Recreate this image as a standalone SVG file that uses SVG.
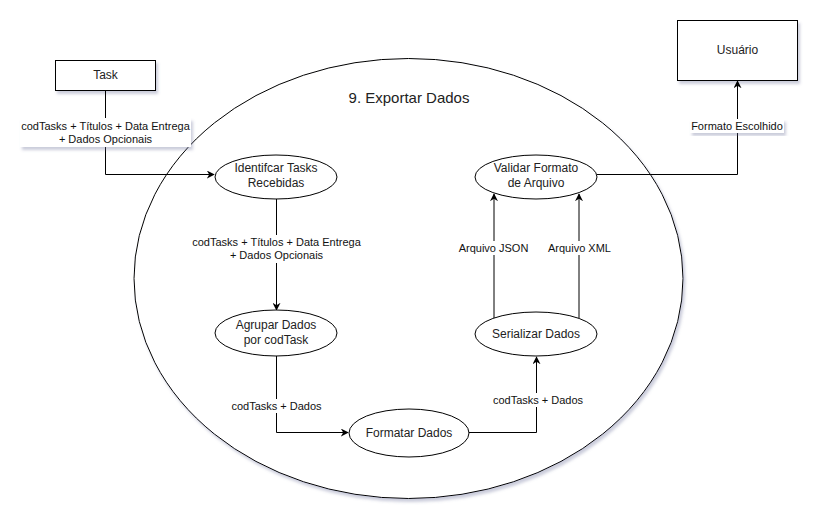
<svg xmlns="http://www.w3.org/2000/svg" width="823" height="525" viewBox="0 0 823 525">
<style>
.n{fill:#fff;stroke:#000;stroke-width:1}
.t{font-family:"Liberation Sans",Arial,sans-serif;font-size:12px;fill:#222;text-anchor:middle}
.l{font-family:"Liberation Sans",Arial,sans-serif;font-size:11px;fill:#111;text-anchor:middle}
.c{fill:none;stroke:#000;stroke-width:1}
.bg{fill:#fff}
</style>
<defs>
<filter id="sh" x="-10%" y="-10%" width="130%" height="130%">
<feGaussianBlur in="SourceAlpha" stdDeviation="1.5"/>
<feOffset dx="2" dy="3" result="b"/>
<feFlood flood-color="#6a6f99" flood-opacity="0.35"/>
<feComposite in2="b" operator="in"/>
<feMerge><feMergeNode/><feMergeNode in="SourceGraphic"/></feMerge>
</filter>
<marker id="a" viewBox="0 0 10 10" refX="9" refY="5" markerWidth="8" markerHeight="8" orient="auto" markerUnits="userSpaceOnUse">
<path d="M0,0 L10,5 L0,10 L3,5 Z" fill="#000"/>
</marker>
</defs>
<rect width="823" height="525" fill="#fff"/>
<g id="process">
<ellipse class="n" cx="408.5" cy="278.5" rx="274.5" ry="220" filter="url(#sh)"/>
<text x="409" y="103" style="font-family:'Liberation Sans',Arial,sans-serif;font-size:15px;fill:#222;text-anchor:middle">9. Exportar Dados</text>
</g>
<g id="task">
<rect class="n" x="55.5" y="60.5" width="100" height="30" filter="url(#sh)"/>
<text class="t" x="105.5" y="79">Task</text>
</g>
<g id="usuario">
<rect class="n" x="677.5" y="20.5" width="120" height="60" filter="url(#sh)"/>
<text class="t" x="737.5" y="54">Usuário</text>
</g>
<g id="connectors">
<path class="c" d="M105.5,90.5 V174.5 H214" marker-end="url(#a)"/>
<path class="c" d="M276.5,199 V310" marker-end="url(#a)"/>
<path class="c" d="M276.5,356 V432.5 H348" marker-end="url(#a)"/>
<path class="c" d="M469,432.5 H536.5 V357" marker-end="url(#a)"/>
<path class="c" d="M494,318 V194" marker-end="url(#a)"/>
<path class="c" d="M579,318 V194" marker-end="url(#a)"/>
<path class="c" d="M597,174.5 H737.5 V81" marker-end="url(#a)"/>
</g>
<g id="labels">
<rect class="bg" x="20" y="118" width="171" height="29" filter="url(#sh)"/>
<text class="l" x="105.5" y="130">codTasks + Títulos + Data Entrega</text>
<text class="l" x="105.5" y="143">+ Dados Opcionais</text>
<rect class="bg" x="190" y="235" width="173" height="28"/>
<text class="l" x="276.5" y="246">codTasks + Títulos + Data Entrega</text>
<text class="l" x="276.5" y="259">+ Dados Opcionais</text>
<rect class="bg" x="231" y="399" width="91" height="14"/>
<text class="l" x="276.5" y="410">codTasks + Dados</text>
<rect class="bg" x="493" y="393" width="91" height="14"/>
<text class="l" x="538" y="404">codTasks + Dados</text>
<rect class="bg" x="457" y="241" width="72" height="14"/>
<text class="l" x="493.5" y="252">Arquivo JSON</text>
<rect class="bg" x="547" y="241" width="65" height="14"/>
<text class="l" x="579.5" y="252">Arquivo XML</text>
<rect class="bg" x="690" y="119" width="94" height="14" filter="url(#sh)"/>
<text class="l" x="737" y="130">Formato Escolhido</text>
</g>
<g id="identificar">
<ellipse class="n" cx="276" cy="177" rx="61" ry="22"/>
<text class="t" x="276" y="172">Identifcar Tasks</text>
<text class="t" x="276" y="187">Recebidas</text>
</g>
<g id="agrupar">
<ellipse class="n" cx="276" cy="333" rx="61" ry="23"/>
<text class="t" x="276" y="329">Agrupar Dados</text>
<text class="t" x="276" y="344">por codTask</text>
</g>
<g id="formatar">
<ellipse class="n" cx="409" cy="433" rx="60" ry="24"/>
<text class="t" x="409" y="437">Formatar Dados</text>
</g>
<g id="serializar">
<ellipse class="n" cx="536" cy="334" rx="61" ry="22"/>
<text class="t" x="536" y="338">Serializar Dados</text>
</g>
<g id="validar">
<ellipse class="n" cx="536" cy="177" rx="61" ry="22"/>
<text class="t" x="536" y="172">Validar Formato</text>
<text class="t" x="536" y="187">de Arquivo</text>
</g>
</svg>
